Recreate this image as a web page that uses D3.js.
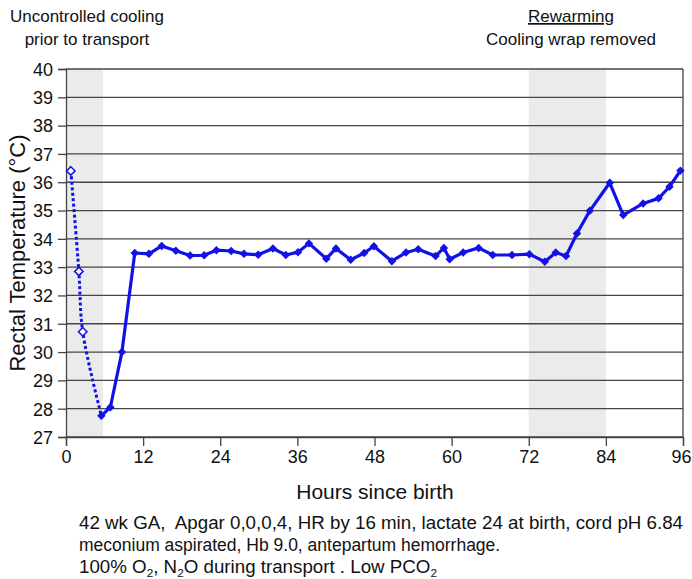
<!DOCTYPE html>
<html>
<head>
<meta charset="utf-8">
<script src="https://cdn.jsdelivr.net/npm/d3@7"></script>
<style>
	body { margin: 0; background: #fff; }
	svg text { font-family: Arial, "Liberation Sans", sans-serif; fill: #111; }
</style>
</head>
<body>
<svg id="svg-main" width="692" height="579"></svg>
<script>
// data
var hoursDotted = [0.75, 2.0, 2.6, 5.5];
var tempDotted = [36.4, 32.85, 30.72, 27.75];

var hoursSolid = [5.5, 6.9, 8.7, 10.7, 12.9, 14.9, 17.1, 19.3, 21.5, 23.4, 25.7, 27.7, 29.9, 32.2, 34.2, 36.1, 37.8,
	40.5, 42.0, 44.3, 46.4, 47.9, 50.7, 52.9, 54.8, 57.5, 58.8, 59.7, 61.8, 64.2, 66.4, 69.4, 72.1, 74.5, 76.2, 77.8,
	79.5, 81.5, 84.6, 86.7, 89.8, 92.2, 93.9, 95.6];
var tempSolid = [27.75, 28.05, 30.0, 33.5, 33.47, 33.75, 33.58, 33.41, 33.42, 33.6, 33.57, 33.47, 33.44, 33.66, 33.43, 33.53, 33.84,
	33.3, 33.66, 33.26, 33.5, 33.74, 33.21, 33.52, 33.63, 33.39, 33.68, 33.28, 33.52, 33.68, 33.43, 33.43, 33.46, 33.19, 33.52, 33.39,
	34.19, 34.99, 35.98, 34.84, 35.25, 35.43, 35.84, 36.41];

var shadeBands = [[0, 5.75], [72, 84]];
var xTicks = [0, 12, 24, 36, 48, 60, 72, 84, 96];
var yTicks = [27, 28, 29, 30, 31, 32, 33, 34, 35, 36, 37, 38, 39, 40];

var noteLines = [
	[["42 wk GA,  Apgar 0,0,0,4, HR by 16 min, lactate 24 at birth, cord pH 6.84", false]],
	[["meconium aspirated, Hb 9.0, antepartum hemorrhage.", false]],
	[["100% O", false], ["2", true], [", N", false], ["2", true], ["O during transport . Low PCO", false], ["2", true]]
];
var noteWidths = [604, null, 358];

var svg = d3.select("#svg-main"),
	blue = "#1212e6",
	gridColor = "#454545";

var x = d3.scaleLinear().domain([0, 96]).range([66, 683]);
var y = d3.scaleLinear().domain([27, 40]).range([437, 69]);

//灰色区域
svg.selectAll(".band")
	.data(shadeBands)
	.enter().append("rect")
	.attr("x", function(d) { return x(d[0]); })
	.attr("y", y(40))
	.attr("width", function(d) { return x(d[1]) - x(d[0]); })
	.attr("height", y(27) - y(40))
	.style("fill", "#ebebeb");

// horizontal grid, one per degree
svg.selectAll(".grid")
	.data(yTicks)
	.enter().append("line")
	.attr("x1", x(0))
	.attr("x2", x(96))
	.attr("y1", function(d) { return y(d); })
	.attr("y2", function(d) { return y(d); })
	.style("stroke", gridColor)
	.style("stroke-width", 1.3);

// right border
svg.append("line")
	.attr("x1", x(96)).attr("x2", x(96))
	.attr("y1", y(40)).attr("y2", y(27))
	.style("stroke", gridColor)
	.style("stroke-width", 1.3);

// axes
var yAxis = d3.axisLeft(y).tickValues(yTicks).tickSize(8).tickPadding(5).tickFormat(d3.format("d"));
var xAxis = d3.axisBottom(x).tickValues(xTicks).tickSize(9).tickPadding(4).tickFormat(d3.format("d"));

var gy = svg.append("g").attr("transform", "translate(" + x(0) + ",0)").call(yAxis);
var gx = svg.append("g").attr("transform", "translate(0," + y(27) + ")").call(xAxis);

[gy, gx].forEach(function(g) {
	g.select(".domain").style("stroke", gridColor).style("stroke-width", 1.3);
	g.selectAll(".tick line").style("stroke", gridColor).style("stroke-width", 1.3);
	g.selectAll(".tick text")
		.style("font-size", "18px")
		.style("font-family", "Arial, 'Liberation Sans', sans-serif")
		.style("fill", "#111");
});
gy.selectAll(".tick text").attr("dy", "0.35em");
// last label sits on the page edge
gx.selectAll(".tick text").filter(function(d) { return d == 96; }).attr("dx", -2);

var dottedPts = hoursDotted.map(function(h, i) { return [h, tempDotted[i]]; });
var solidPts = hoursSolid.map(function(h, i) { return [h, tempSolid[i]]; });

// dotted early series (smoothed)
var smooth = d3.line()
	.x(function(d) { return x(d[0]); })
	.y(function(d) { return y(d[1]); })
	.curve(d3.curveCatmullRom.alpha(0.5));

svg.append("path")
	.attr("d", smooth(dottedPts))
	.style("fill", "none")
	.style("stroke", blue)
	.style("stroke-width", 3)
	.style("stroke-dasharray", "3,2.5");

var straight = d3.line()
	.x(function(d) { return x(d[0]); })
	.y(function(d) { return y(d[1]); });

svg.append("path")
	.attr("d", straight(solidPts))
	.style("fill", "none")
	.style("stroke", blue)
	.style("stroke-width", 3.2)
	.style("stroke-linejoin", "round");

var diamond = d3.symbol().type(d3.symbolDiamond2).size(46);

svg.selectAll(".ptS")
	.data(solidPts)
	.enter().append("path")
	.attr("d", diamond)
	.attr("transform", function(d) { return "translate(" + x(d[0]) + "," + y(d[1]) + ")"; })
	.style("fill", blue);

svg.selectAll(".ptD")
	.data(dottedPts.slice(0, 3))
	.enter().append("path")
	.attr("d", diamond)
	.attr("transform", function(d) { return "translate(" + x(d[0]) + "," + y(d[1]) + ")"; })
	.style("fill", "#fff")
	.style("stroke", blue)
	.style("stroke-width", 1.5);

// axis titles
svg.append("text")
	.attr("transform", "translate(25,253) rotate(-90)")
	.attr("text-anchor", "middle")
	.style("font-size", "22px")
	.text("Rectal Temperature (°C)");

svg.append("text")
	.attr("x", 375)
	.attr("y", 499)
	.attr("text-anchor", "middle")
	.style("font-size", "21px")
	.text("Hours since birth");

// top annotations
svg.append("text").attr("x", 87).attr("y", 22).attr("text-anchor", "middle")
	.style("font-size", "17px").text("Uncontrolled cooling");
svg.append("text").attr("x", 87).attr("y", 45).attr("text-anchor", "middle")
	.style("font-size", "17px").text("prior to transport");
svg.append("text").attr("x", 571).attr("y", 22).attr("text-anchor", "middle")
	.style("font-size", "17px").style("text-decoration", "underline").text("Rewarming");
svg.append("text").attr("x", 571).attr("y", 45).attr("text-anchor", "middle")
	.style("font-size", "17px").text("Cooling wrap removed");

// notes below the chart
noteLines.forEach(function(parts, i) {
	var t = svg.append("text")
		.attr("x", 79)
		.attr("y", 529 + i * 22)
		.style("white-space", "pre")
		.style("font-size", "17.5px");
	if(noteWidths[i]) {
		t.attr("textLength", noteWidths[i]).attr("lengthAdjust", "spacingAndGlyphs");
	}
	parts.forEach(function(p, j) {
		var ts = t.append("tspan").text(p[0]);
		if(p[1]) {
			ts.attr("dy", 4).style("font-size", "11px");
		} else if(j > 0) {
			ts.attr("dy", -4);
		}
	});
});
</script>
</body>
</html>
